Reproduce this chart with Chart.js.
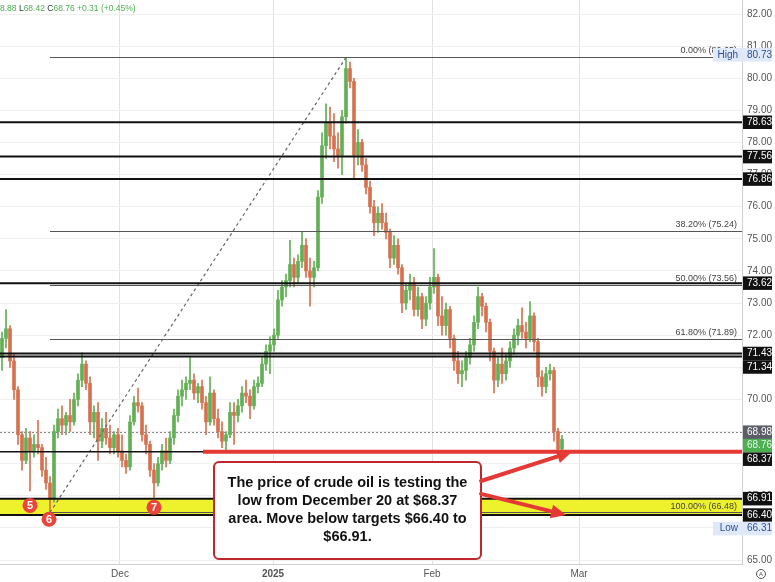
<!DOCTYPE html>
<html><head><meta charset="utf-8">
<script src="https://cdn.jsdelivr.net/npm/chart.js@4.4.1/dist/chart.umd.min.js"></script>
<style>html,body{margin:0;padding:0;background:#fff}canvas{display:block}</style>
</head><body>
<canvas id="c" width="775" height="582"></canvas>
<script>
// ---- data (half-session candles, index = time) ----
const opens = [71.3,71.9,72.2,71.2,70.3,68.9,68.1,68.8,68.4,68.6,68.5,67.8,67.4,66.9,69.0,69.4,69.2,69.5,69.3,70.0,
70.6,71.1,70.5,69.3,69.6,68.7,69.1,68.8,68.5,68.9,68.4,68.1,67.9,69.3,69.9,69.8,68.9,68.6,67.8,67.4,
68.0,68.4,68.1,68.8,69.5,70.1,70.3,70.5,70.6,70.2,70.4,69.9,69.3,70.2,69.4,69.0,68.7,68.9,69.6,69.5,
69.8,70.2,70.1,69.8,70.4,70.5,71.1,71.5,71.7,72.0,73.1,73.5,73.7,74.2,73.8,74.3,74.8,74.0,73.8,74.1,
76.3,77.9,78.6,78.2,77.8,77.6,78.8,80.3,79.9,77.6,78.0,77.3,76.6,76.0,75.5,75.8,75.5,75.2,74.4,74.8,
74.1,73.0,73.4,73.6,72.8,73.2,72.5,73.0,73.5,73.8,72.6,72.3,72.8,71.9,71.2,70.8,70.9,71.3,71.7,72.4,
73.2,72.9,72.4,71.5,70.6,71.1,70.8,71.2,71.6,72.0,72.3,72.1,71.9,72.6,71.8,70.7,70.4,70.8,70.9,69.0,68.45];
const highs = [72.1,72.8,72.3,71.4,70.4,69.0,69.1,69.0,68.9,69.35,68.6,68.2,67.6,69.2,69.7,69.8,69.6,70.0,70.2,70.8,
71.45,71.2,70.7,69.8,69.9,69.4,69.6,69.2,69.0,69.1,68.9,68.3,69.5,70.1,70.35,69.9,69.2,68.7,68.0,68.2,
68.6,68.8,69.0,69.7,70.3,70.6,70.7,71.3,70.8,70.5,70.6,70.1,70.7,70.3,69.7,69.3,69.0,69.9,69.9,70.0,
70.4,70.6,70.3,70.6,70.7,71.3,71.7,71.95,72.2,73.4,73.7,73.9,74.95,74.4,74.5,75.2,75.0,74.4,74.3,76.5,
78.3,79.2,79.1,78.9,78.3,79.0,80.65,80.5,80.0,78.4,78.1,77.5,76.8,76.2,76.0,76.1,75.8,75.3,75.1,75.0,
74.2,73.6,73.9,73.8,73.5,73.3,73.2,73.8,74.7,73.9,73.2,73.0,72.9,72.0,71.5,71.2,71.5,71.9,72.6,73.5,
73.3,73.0,72.5,71.6,71.3,71.6,71.4,71.8,72.2,72.5,72.85,72.4,73.05,72.7,71.9,70.9,71.0,71.1,71.0,69.1,68.88];
const lows = [70.9,71.6,71.0,70.0,68.6,67.8,68.0,67.15,68.2,68.3,67.6,67.2,66.31,66.8,68.8,68.9,68.9,69.0,69.2,69.8,
70.4,70.3,68.9,68.8,68.1,68.5,68.6,68.3,68.3,68.2,67.9,67.7,67.8,69.2,69.6,68.7,68.3,67.6,66.95,67.3,
67.8,67.9,68.0,68.6,69.3,69.8,70.0,70.3,70.0,69.9,69.7,68.9,69.2,69.2,68.8,68.5,68.37,68.8,68.6,69.3,
69.6,69.9,69.4,69.7,70.2,70.4,70.9,70.8,71.5,71.9,72.9,73.2,73.5,73.5,73.6,74.1,73.8,72.9,73.5,74.0,
76.1,77.5,77.8,77.4,77.2,77.0,78.6,79.7,76.9,77.3,77.1,76.4,75.8,75.1,75.2,75.3,75.0,74.1,74.2,73.9,
72.7,72.8,73.1,72.6,72.6,72.2,72.3,72.8,73.3,72.3,72.0,72.0,71.6,70.9,70.5,70.4,70.6,71.1,71.5,72.2,
72.6,72.1,71.2,70.2,70.4,70.5,70.6,71.0,71.4,71.7,71.9,71.6,71.8,71.5,70.4,70.1,70.2,70.6,68.7,68.4,68.42];
const closes = [71.9,72.2,71.2,70.3,68.9,68.1,68.8,68.4,68.6,68.5,67.8,67.4,66.9,69.0,69.4,69.2,69.5,69.3,70.0,70.6,
71.1,70.5,69.3,69.6,68.7,69.1,68.8,68.5,68.9,68.4,68.1,67.9,69.3,69.9,69.8,68.9,68.6,67.8,67.4,68.0,
68.4,68.1,68.8,69.5,70.1,70.3,70.5,70.6,70.2,70.4,69.9,69.3,70.2,69.4,69.0,68.7,68.9,69.6,69.5,69.8,
70.2,70.1,69.8,70.4,70.5,71.1,71.5,71.7,72.0,73.1,73.5,73.7,74.2,73.8,74.3,74.8,74.0,73.8,74.1,76.3,
77.9,78.6,78.2,77.8,77.6,78.8,80.3,79.9,77.6,78.0,77.3,76.6,76.0,75.5,75.8,75.5,75.2,74.4,74.8,74.1,
73.0,73.4,73.6,72.8,73.2,72.5,73.0,73.5,73.8,72.6,72.3,72.8,71.9,71.2,70.8,70.9,71.3,71.7,72.4,73.2,
72.9,72.4,71.5,70.6,71.1,70.8,71.2,71.6,72.0,72.3,72.1,71.9,72.6,71.8,70.7,70.4,70.8,70.9,69.0,68.45,68.76];

const monthLabels = ['Dec','2025','Feb','Mar'];
const monthAt = [29.5, 67.75, 107.5, 144.25];
const yTickValues = [65,66,67,68,69,70,71,72,73,74,75,76,77,78,79,80,81,82];

const levels = [78.63,77.56,76.86,73.62,71.43,71.34,66.91,66.40];
const fibPercents = ['0.00%','38.20%','50.00%','61.80%','100.00%'];
const fibValues = [80.65,75.24,73.56,71.89,66.48];
const fibLowIdx = 12, fibHighIdx = 86;
const supportLevel = 68.37, supportFromIdx = 50.25;
const refLevel = 68.98;
const lastPrice = 68.76;
const zoneTop = 66.91, zoneBottom = 66.40;
const highValue = 80.73, lowValue = 66.31;
const waveLabels = ['5','6','7'];
const waveIdx = [7, 11.75, 38];
const waveVal = [66.70, 66.27, 66.64];
const noteLines = ['The price of crude oil is testing the','low from December 20 at $68.37','area. Move below targets $66.40 to','$66.91.'];
const headerParts = [['8.88 ','g'],['L','d'],['68.42 ','g'],['C','d'],['68.76 +0.31 (+0.45%)','g']];

// ---- styles ----
const GREEN = '#62b055', RED = '#d6714f', FONT = '"Liberation Sans", Arial, sans-serif';
const col = closes.map((c,i)=> c >= opens[i] ? GREEN : RED);

const overlay = {
  id:'overlay',
  beforeDatasetsDraw(chart){
    const {ctx, chartArea:a, scales:{x,y}} = chart;
    ctx.save();
    const y1 = y.getPixelForValue(zoneTop), y2 = y.getPixelForValue(zoneBottom);
    ctx.fillStyle = '#eef22c';
    ctx.fillRect(a.left, y1, a.right-a.left, y2-y1);
    ctx.strokeStyle = '#8a8a8a'; ctx.lineWidth = 1; ctx.setLineDash([2,2]);
    const yr = Math.round(y.getPixelForValue(refLevel))+0.5;
    ctx.beginPath(); ctx.moveTo(a.left, yr); ctx.lineTo(a.right, yr); ctx.stroke();
    ctx.restore();
  },
  afterDatasetsDraw(chart){
    const {ctx, chartArea:a, scales:{x,y}} = chart;
    ctx.save();
    const fx = x.getPixelForValue(fibLowIdx);
    ctx.strokeStyle = '#555'; ctx.lineWidth = 1;
    fibValues.forEach((v,k)=>{
      const yy = Math.round(y.getPixelForValue(v))+0.5;
      ctx.beginPath(); ctx.moveTo(fx, yy); ctx.lineTo(a.right, yy); ctx.stroke();
    });
    ctx.font = '9px ' + FONT; ctx.fillStyle = '#444'; ctx.textAlign = 'right'; ctx.textBaseline = 'bottom';
    fibValues.forEach((v,k)=>{
      const yy = y.getPixelForValue(v);
      const t = fibPercents[k] + ' (' + v.toFixed(2) + ')';
      if (k === 4) { ctx.textBaseline='middle'; ctx.fillText(t, a.right-5, y.getPixelForValue((zoneTop+zoneBottom)/2)); ctx.textBaseline='bottom'; }
      else ctx.fillText(t, a.right-5, yy-2);
    });
    const ys = y.getPixelForValue(supportLevel);
    ctx.strokeStyle = '#111'; ctx.lineWidth = 1.5;
    ctx.beginPath(); ctx.moveTo(a.left, ys); ctx.lineTo(a.right, ys); ctx.stroke();
    ctx.strokeStyle = '#e53935'; ctx.lineWidth = 4;
    ctx.beginPath(); ctx.moveTo(x.getPixelForValue(supportFromIdx), ys); ctx.lineTo(a.right, ys); ctx.stroke();
    ctx.strokeStyle = '#111'; ctx.lineWidth = 2;
    levels.forEach(v=>{
      const yy = y.getPixelForValue(v);
      ctx.beginPath(); ctx.moveTo(a.left, yy); ctx.lineTo(a.right, yy); ctx.stroke();
    });
    waveLabels.forEach((t,k)=>{
      const cx = x.getPixelForValue(waveIdx[k]), cy = y.getPixelForValue(waveVal[k]);
      ctx.beginPath(); ctx.arc(cx, cy, 7.5, 0, Math.PI*2); ctx.fillStyle = '#e8463a'; ctx.fill();
      ctx.fillStyle = '#fff'; ctx.font = 'bold 11px ' + FONT; ctx.textAlign='center'; ctx.textBaseline='middle';
      ctx.fillText(t, cx, cy+0.5);
    });
    const bx1 = x.getPixelForValue(53), bx2 = x.getPixelForValue(119.75);
    const by1 = y.getPixelForValue(68.05), by2 = y.getPixelForValue(65.03);
    ctx.beginPath(); ctx.roundRect(bx1, by1, bx2-bx1, by2-by1, 5);
    ctx.fillStyle = '#fff'; ctx.fill(); ctx.strokeStyle = '#c0262d'; ctx.lineWidth = 2; ctx.stroke();
    ctx.font = 'bold 13px ' + FONT;
    const w0 = ctx.measureText(noteLines[0]).width;
    const fs = 13 * 240 / w0;
    ctx.font = 'bold ' + fs.toFixed(2) + 'px ' + FONT;
    ctx.fillStyle = '#111'; ctx.textAlign = 'center'; ctx.textBaseline = 'middle';
    const bh = by2-by1;
    noteLines.forEach((t,k)=> ctx.fillText(t, (bx1+bx2)/2, by1 + bh*(0.215 + k*0.186)));
    const arrow = (x1,y1,x2,y2)=>{
      const ang = Math.atan2(y2-y1, x2-x1), L = 15, W = 7;
      const bxp = x2 - L*Math.cos(ang), byp = y2 - L*Math.sin(ang);
      ctx.strokeStyle = '#e53935'; ctx.fillStyle = '#e53935'; ctx.lineWidth = 4; ctx.lineCap='round';
      ctx.beginPath(); ctx.moveTo(x1,y1); ctx.lineTo(bxp,byp); ctx.stroke();
      ctx.beginPath(); ctx.moveTo(x2,y2);
      ctx.lineTo(bxp + W*Math.sin(ang), byp - W*Math.cos(ang));
      ctx.lineTo(bxp - W*Math.sin(ang), byp + W*Math.cos(ang)); ctx.closePath(); ctx.fill();
    };
    arrow(bx2, y.getPixelForValue(67.46), x.getPixelForValue(142.5), ys);
    arrow(bx2, y.getPixelForValue(67.06), x.getPixelForValue(141), y.getPixelForValue(zoneBottom));
    ctx.restore();
  },
  afterDraw(chart){
    const {ctx, chartArea:a, scales:{y}} = chart;
    ctx.save();
    const items = [
      {v:highValue, bg:'#dfe9f9', fg:'#2f4f8f', tag:'High'},
      ...levels.map(v=>({v, bg:'#111', fg:'#fff'})),
      {v:refLevel, bg:'#5b5e66', fg:'#fff'},
      {v:lastPrice, bg:'#4caf50', fg:'#e8f5e9'},
      {v:supportLevel, bg:'#111', fg:'#fff'},
      {v:lowValue, bg:'#dfe9f9', fg:'#2f4f8f', tag:'Low'}
    ].map(o=>({...o, yy:y.getPixelForValue(o.v)})).sort((p,q)=>p.yy-q.yy);
    let prev = -100;
    items.forEach(o=>{ o.py = Math.max(o.yy, prev+13.5); prev = o.py; });
    ctx.font = '10px ' + FONT; ctx.textBaseline = 'middle';
    items.forEach(o=>{
      const h = 13.5;
      if (o.tag){
        ctx.fillStyle = o.bg; ctx.fillRect(a.right-29, o.py-h/2, 59, h);
        ctx.fillStyle = o.fg; ctx.textAlign='right'; ctx.fillText(o.tag, a.right-4, o.py);
      } else {
        ctx.fillStyle = o.bg; ctx.fillRect(a.right+1, o.py-h/2, 29, h);
      }
      ctx.fillStyle = o.fg; ctx.textAlign='left'; ctx.fillText(o.v.toFixed(2), a.right+5, o.py);
    });
    ctx.font = '8.5px ' + FONT; ctx.textAlign='left'; ctx.textBaseline='middle';
    let hx = 0;
    headerParts.forEach(([t,c])=>{ ctx.fillStyle = c==='g' ? '#4caf50' : '#333'; ctx.fillText(t, hx, 9); hx += ctx.measureText(t).width; });
    ctx.strokeStyle = '#555'; ctx.lineWidth = 1;
    ctx.beginPath(); ctx.arc(a.right+19, 574, 4.5, 0, Math.PI*2); ctx.stroke();
    ctx.font = '6px ' + FONT; ctx.fillStyle='#555'; ctx.textAlign='center'; ctx.fillText('A', a.right+19, 574.5);
    ctx.restore();
  }
};

new Chart(document.getElementById('c'), {
  type: 'bar',
  data: {
    datasets: [
      { label:'wick', data: highs.map((h,i)=>({x:i, y:[lows[i], h]})), backgroundColor: col, barThickness: 1, grouped:false, order: 2 },
      { label:'body', data: opens.map((o,i)=>({x:i, y:[Math.min(o,closes[i]), Math.max(o,closes[i])]})), backgroundColor: col, barThickness: 3, minBarLength: 1, grouped:false, order: 1 },
      { type:'line', label:'trend', data:[{x:fibLowIdx, y:fibValues[4]},{x:fibHighIdx, y:fibValues[0]}], borderColor:'#666', borderWidth:1.2, borderDash:[3,3], pointRadius:0, fill:false, order:0 }
    ]
  },
  options: {
    responsive:false, animation:false, devicePixelRatio:1,
    layout:{padding:0},
    plugins:{legend:{display:false}, tooltip:{enabled:false}},
    scales:{
      x:{ type:'linear', min:-0.5, max:185, offset:false,
          afterBuildTicks: s => { s.ticks = monthAt.map(v=>({value:v})); },
          afterFit: s => { s.height = 18; s.paddingLeft = 0; s.paddingRight = 0; },
          grid:{color:'#e2e2e2', drawTicks:false, offset:false},
          border:{display:true, color:'#cfcfcf'},
          ticks:{autoSkip:false, maxRotation:0, padding:4, color:'#555',
            font: c => ({family:FONT, size:10, weight: (c.tick && c.tick.value===monthAt[1]) ? 'bold' : 'normal'}),
            callback: v => { const k = monthAt.indexOf(v); return k>=0 ? monthLabels[k] : ''; } } },
      y:{ type:'linear', position:'right', min:64.876, max:82.436,
          afterBuildTicks: s => { s.ticks = yTickValues.map(v=>({value:v})); },
          afterFit: s => { s.width = 33; s.paddingTop = 0; s.paddingBottom = 0; },
          grid:{color:'#efefef', drawTicks:false},
          border:{display:true, color:'#cfcfcf'},
          ticks:{padding:5, color:'#555', font:{family:FONT, size:10}, callback: v => Number(v).toFixed(2)} }
    }
  },
  plugins:[overlay]
});
</script>
</body></html>
